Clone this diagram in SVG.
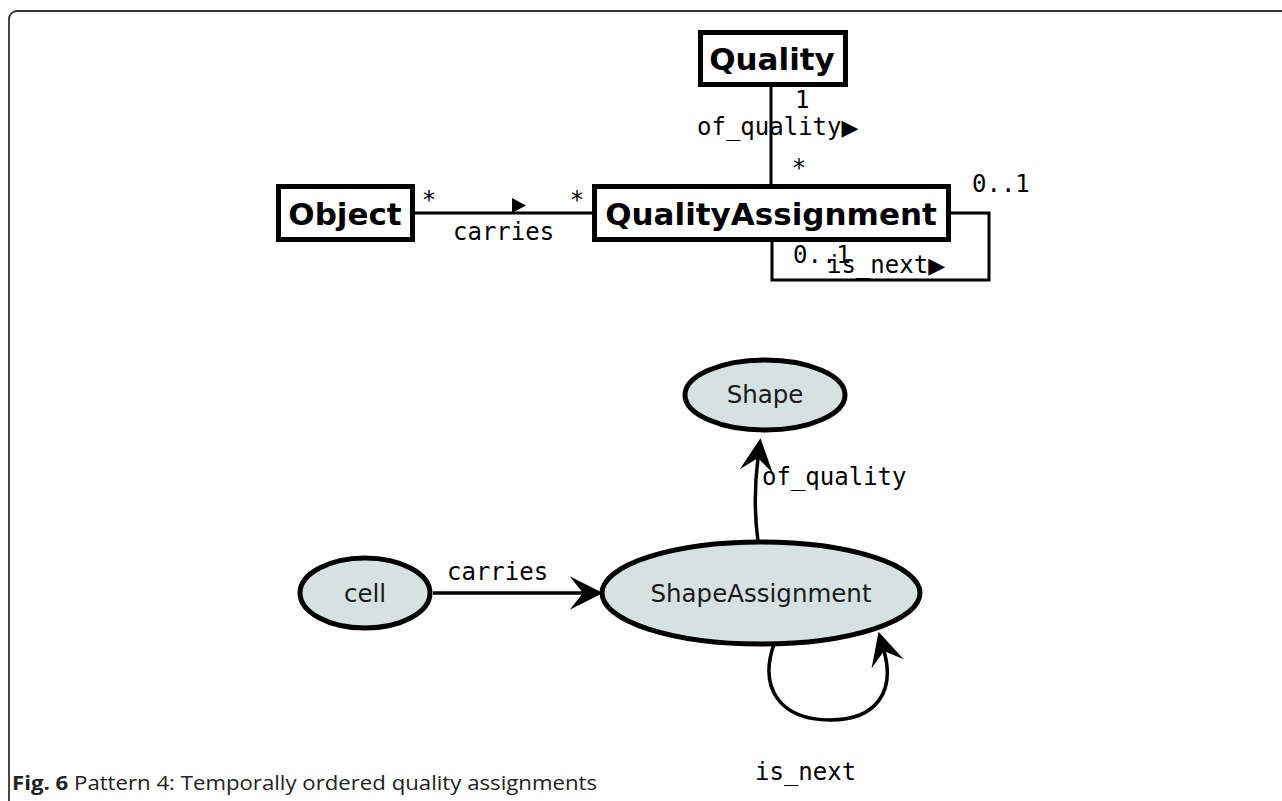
<svg xmlns="http://www.w3.org/2000/svg" width="1282" height="801" viewBox="0 0 1282 801">
<style>
.box{fill:#fff;stroke:#000;stroke-width:5}
.bold{font-family:"DejaVu Sans",sans-serif;font-weight:bold;font-size:31px;fill:#000;text-anchor:middle}
.mono{font-family:"DejaVu Sans Mono",monospace;font-size:24px;fill:#000}
.tri{font-family:"DejaVu Sans",sans-serif;font-size:22px}
.line{fill:none;stroke:#000;stroke-width:3}
.ell{fill:#d6e2e2;stroke:#000;stroke-width:5}
.lbl{font-family:"DejaVu Sans",sans-serif;font-size:24.5px;fill:#1a1a1a;text-anchor:middle}
.edge{fill:none;stroke:#000;stroke-width:3.5}
.cap{font-family:"Open Sans",sans-serif;font-size:20px;fill:#222}
</style>
<defs>
<marker id="ah" markerUnits="userSpaceOnUse" markerWidth="40" markerHeight="40" viewBox="-12 -15 30 30" refX="0" refY="0" orient="auto">
<path d="M0,0 L-10,-12.5 L15,0 L-10,12.5 Z" fill="#000"/>
</marker>
</defs>
<path d="M9,801 V19 A8,8 0 0 1 17,11 H1282" fill="none" stroke="#333" stroke-width="1.8"/>

<g id="connectors">
<line class="line" x1="771" y1="87" x2="771" y2="185"/>
<line class="line" x1="415" y1="213" x2="592" y2="213"/>
<polygon points="512,198 526,205.5 512,213" fill="#000"/>
<polyline class="line" points="951,213 989,213 989,280 772,280 772,242"/>
<path class="edge" d="M758,541 C754,512 755,482 758,458" marker-end="url(#ah)"/>
<line class="edge" x1="433" y1="593" x2="583" y2="593" marker-end="url(#ah)"/>
<path class="edge" d="M774,644 C758,690 782,720 830,720 C878,720 895,690 884,651" marker-end="url(#ah)"/>
</g>

<g id="connector-labels">
<text class="mono" x="795" y="108">1</text>
<text class="mono" x="697" y="135">of_quality<tspan class="tri">▶</tspan></text>
<text class="mono" x="799" y="176" text-anchor="middle">*</text>
<text class="mono" x="429" y="208" text-anchor="middle">*</text>
<text class="mono" x="577" y="208" text-anchor="middle">*</text>
<text class="mono" x="453" y="240">carries</text>
<text class="mono" x="972" y="192">0..1</text>
<text class="mono" x="793" y="263">0..1</text>
<text class="mono" x="827" y="273">is_next<tspan class="tri">▶</tspan></text>
<text class="mono" x="762" y="485">of_quality</text>
<text class="mono" x="447" y="580">carries</text>
<text class="mono" x="755" y="780">is_next</text>
</g>

<g id="node-quality">
<rect class="box" x="700.5" y="32.5" width="145" height="52"/>
<text class="bold" x="772" y="70">Quality</text>
</g>
<g id="node-object">
<rect class="box" x="278.5" y="186.5" width="134" height="53"/>
<text class="bold" x="345" y="224.5">Object</text>
</g>
<g id="node-qualityassignment">
<rect class="box" x="594.5" y="186.5" width="354" height="53"/>
<text class="bold" x="771" y="224.5">QualityAssignment</text>
</g>

<g id="node-shape">
<ellipse class="ell" cx="765" cy="395" rx="80" ry="35"/>
<text class="lbl" x="765" y="403">Shape</text>
</g>
<g id="node-cell">
<ellipse class="ell" cx="365" cy="593" rx="65" ry="35"/>
<text class="lbl" x="365" y="602">cell</text>
</g>
<g id="node-shapeassignment">
<ellipse class="ell" cx="761" cy="593" rx="159" ry="51"/>
<text class="lbl" x="761" y="602">ShapeAssignment</text>
</g>

<text class="cap" x="12" y="790" textLength="585" lengthAdjust="spacingAndGlyphs"><tspan font-weight="bold">Fig. 6</tspan> Pattern 4: Temporally ordered quality assignments</text>
</svg>
